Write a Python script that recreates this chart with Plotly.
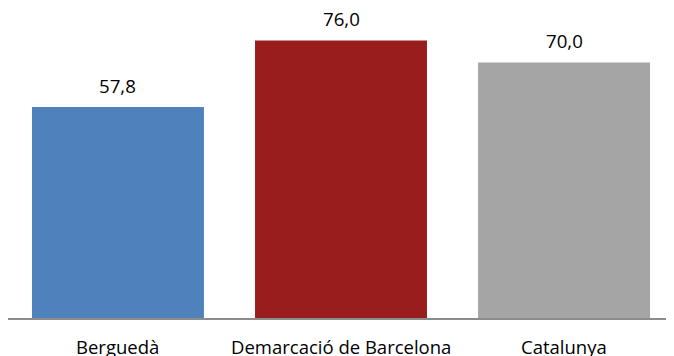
import plotly.graph_objects as go

categories = ["Berguedà", "Demarcació de Barcelona", "Catalunya"]
values = [57.8, 76.0, 70.0]
labels = ["57,8", "76,0", "70,0"]
colors = ["#4F81BD", "#991D1D", "#A5A5A5"]

FONT = "Open Sans, sans-serif"

fig = go.Figure(go.Bar(
    x=categories, y=values, marker=dict(color=colors, line=dict(width=0)),
    hoverinfo="skip",
))
for c, v, t in zip(categories, values, labels):
    fig.add_annotation(x=c, y=v, text=t, showarrow=False, yanchor="middle", yshift=22,
                       font=dict(family=FONT, size=18.7, color="#000000"))
for c in categories:
    fig.add_annotation(x=c, y=0, text=c, showarrow=False, yanchor="middle", yshift=-28,
                       font=dict(family=FONT, size=18.5, color="#000000"))

# page body has an 8px margin, so the figure is sized to the visible area
fig.update_layout(
    width=666, height=348,
    margin=dict(l=0, r=0, t=0, b=38),
    paper_bgcolor="white", plot_bgcolor="white",
    bargap=0.229, showlegend=False,
    font=dict(family=FONT, size=18, color="#000000"),
)
fig.update_xaxes(range=[-0.493, 2.493], showline=True, linecolor="#8C8C8C", linewidth=2,
                 ticks="", showgrid=False, showticklabels=False, automargin=False)
fig.update_yaxes(range=[0, 84.93], visible=False, showgrid=False, automargin=False)
fig.write_html("out.html")
